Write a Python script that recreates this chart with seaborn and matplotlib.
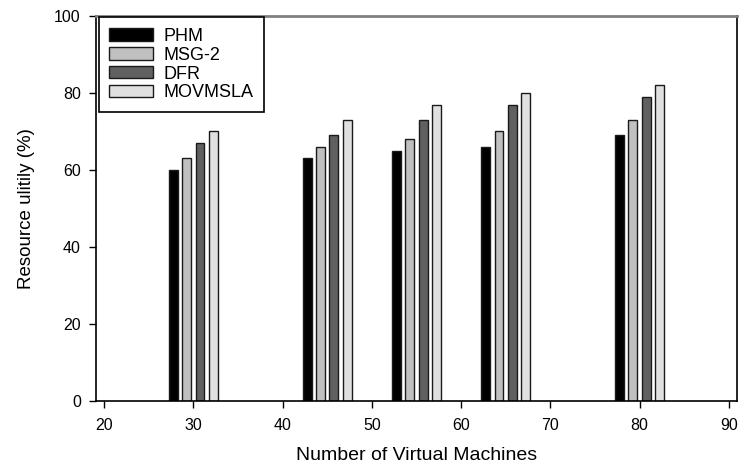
import matplotlib
matplotlib.use("Agg")
import matplotlib.pyplot as plt
import seaborn as sns
import pandas as pd

vms = [30, 45, 55, 65, 80]
methods = ["PHM", "MSG-2", "DFR", "MOVMSLA"]
phm = [60, 63, 65, 66, 69]
msg2 = [63, 66, 68, 70, 73]
dfr = [67, 69, 73, 77, 79]
movmsla = [70, 73, 77, 80, 82]
colors = ["#000000", "#c0c0c0", "#606060", "#e0e0e0"]

rows = []
for m, vals in zip(methods, [phm, msg2, dfr, movmsla]):
    for x, v in zip(vms, vals):
        rows.append({"vm": x, "method": m, "value": v})
df = pd.DataFrame(rows)

sns.set_style("ticks")
plt.rcParams["font.family"] = ["Liberation Sans", "DejaVu Sans"]
plt.rcParams["text.color"] = "black"
plt.rcParams["axes.labelcolor"] = "black"
plt.rcParams["xtick.color"] = "black"
plt.rcParams["ytick.color"] = "black"

fig = plt.figure(figsize=(7.39, 4.66), dpi=100)
ax = fig.add_axes([0.130, 0.1395, 0.867, 0.8262])

sns.barplot(data=df, x="vm", y="value", hue="method", hue_order=methods,
            palette=colors, native_scale=True, width=0.6, gap=1/3,
            edgecolor="#1a1a1a", linewidth=1.0, errorbar=None, ax=ax)

ax.set_xlim(19.1, 90.9)
ax.set_ylim(0, 100)
ax.set_xticks([20, 30, 40, 50, 60, 70, 80, 90])
ax.set_yticks([0, 20, 40, 60, 80, 100])
ax.set_xlabel("Number of Virtual Machines", fontsize=14, labelpad=10)
ax.set_ylabel("Resource ulitily (%)", fontsize=13.5, labelpad=14)
ax.tick_params(axis="both", labelsize=11.5, direction="out", length=5, width=1,
               color="black", labelcolor="black")
ax.tick_params(axis="x", pad=7)
ax.tick_params(axis="y", pad=6)

for side in ["left", "bottom", "right"]:
    ax.spines[side].set_visible(True)
    ax.spines[side].set_color("black")
    ax.spines[side].set_linewidth(1.2)
ax.spines["top"].set_visible(True)
ax.spines["top"].set_color("#808080")
ax.spines["top"].set_linewidth(2)

leg = ax.legend(loc="upper left", bbox_to_anchor=(0.004, 0.997), fontsize=13,
                frameon=True, fancybox=False, edgecolor="black", framealpha=1,
                handlelength=2.4, handleheight=0.67, borderaxespad=0,
                borderpad=0.6, labelspacing=0.1, handletextpad=0.6)
leg.get_frame().set_linewidth(1.2)

fig.savefig("out.png", dpi=100)
